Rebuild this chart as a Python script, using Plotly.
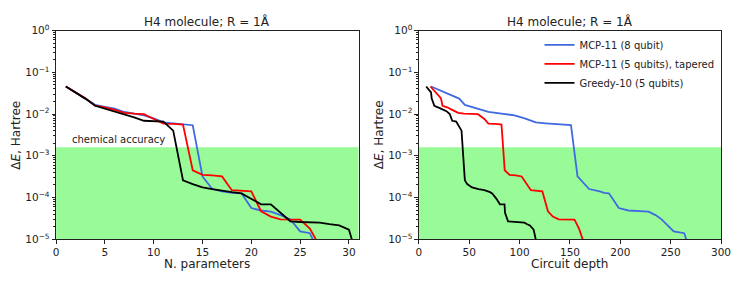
import plotly.graph_objects as go

# ---------------- data ----------------
title_text = "H4 molecule; R = 1Å"
series_names = ["MCP-11 (8 qubit)", "MCP-11 (5 qubits), tapered", "Greedy-10 (5 qubits)"]
series_colors = ["#4169E1", "#FF0000", "#000000"]

n_blue = list(range(1, 28))
depth_blue = [12, 26, 40, 45.6, 52, 59, 69, 82, 95, 105, 116, 126, 137, 151, 157.5, 169,
              179.6, 184, 188.7, 198.5, 208, 228, 235, 241, 253, 263.5, 270]
de_blue = [0.0457, 0.0324, 0.0234, 0.0166, 0.0148, 0.0135, 0.0112, 0.0102, 0.0093, 0.0079,
           0.0063, 0.0060, 0.0058, 0.0054, 3.2e-4, 1.6e-4, 1.4e-4, 1.3e-4, 1.26e-4, 5.6e-5,
           4.9e-5, 4.6e-5, 3.8e-5, 3.0e-5, 1.55e-5, 1.4e-5, 4.5e-6]

n_red = list(range(1, 28))
depth_red = [11.4, 17, 21.8, 23.4, 28, 33, 39, 44.6, 58.6, 65, 69, 76, 82, 85.2, 90, 96, 102,
             111.2, 117, 122.6, 128.1, 133, 138.8, 147, 154.5, 159, 165]
de_red = [0.0457, 0.0324, 0.024, 0.0158, 0.0145, 0.0126, 0.0107, 0.0102, 0.0099, 0.0076,
          0.0059, 0.0058, 0.0056, 4.5e-4, 3.5e-4, 3.4e-4, 3.2e-4, 1.5e-4, 1.45e-4, 1.4e-4,
          4.7e-5, 3.5e-5, 3.0e-5, 2.95e-5, 2.95e-5, 1.8e-5, 6.8e-6]

n_black = list(range(1, 32))
depth_black = [7.2, 12, 12.7, 15.3, 21.8, 27.3, 30.6, 31.8, 33, 35, 37, 42.3, 45.6, 47.9, 52.7,
               59.2, 65, 70.6, 72.7, 77, 80.4, 85, 85.5, 88.5, 98.3, 102, 104.8, 107.5, 110.2,
               113.9, 121]
de_black = [0.0457, 0.033, 0.0234, 0.0158, 0.0135, 0.0117, 0.0100, 0.0083, 0.0069, 0.0068,
            0.0066, 0.0040, 2.6e-4, 2.1e-4, 1.75e-4, 1.6e-4, 1.5e-4, 1.35e-4, 1.26e-4, 9.3e-5,
            6.9e-5, 6.9e-5, 4.3e-5, 2.7e-5, 2.6e-5, 2.5e-5, 2.5e-5, 2.3e-5, 2.15e-5, 1.7e-5,
            2.8e-6]

chem_acc = 1.6e-3
band_floor = 1e-6

y_tickvals = [1e-5, 1e-4, 1e-3, 1e-2, 1e-1, 1]
y_ticktext = ["10<sup>−5</sup>", "10<sup>−4</sup>", "10<sup>−3</sup>", "10<sup>−2</sup>",
              "10<sup>−1</sup>", "10<sup>0</sup>"]
y_minor_tickvals = [m * d for d in (1e-5, 1e-4, 1e-3, 1e-2, 1e-1) for m in range(2, 10)]
x1_tickvals = [0, 5, 10, 15, 20, 25, 30]
x2_tickvals = [0, 50, 100, 150, 200, 250, 300]
x1_max = 31
x2_max = 300
x1_label = "N. parameters"
x2_label = "Circuit depth"
y_label = "Δ<i>E</i>, Hartree"
band_label = "chemical accuracy"

# ---------------- figure ----------------
FONT = "DejaVu Sans"
INK = "#222"
fig = go.Figure()

for xa, ya, xmax in [("x", "y", x1_max), ("x2", "y2", x2_max)]:
    fig.add_trace(go.Scatter(x=[0, xmax, xmax, 0, 0],
                             y=[band_floor, band_floor, chem_acc, chem_acc, band_floor],
                             fill="toself", fillcolor="#98FB98", mode="none",
                             hoverinfo="skip", showlegend=False, xaxis=xa, yaxis=ya))

left = [(n_blue, de_blue), (n_red, de_red), (n_black, de_black)]
right = [(depth_blue, de_blue), (depth_red, de_red), (depth_black, de_black)]
for i, (xs, ys) in enumerate(left):
    fig.add_trace(go.Scatter(x=xs, y=ys, mode="lines", line=dict(color=series_colors[i], width=1.8),
                             name=series_names[i], showlegend=False, xaxis="x", yaxis="y"))
for i, (xs, ys) in enumerate(right):
    fig.add_trace(go.Scatter(x=xs, y=ys, mode="lines", line=dict(color=series_colors[i], width=1.8),
                             name=series_names[i], showlegend=True, xaxis="x2", yaxis="y2"))

W, H = 748, 284


def px(X):
    return X / W


def py(Y):
    return 1 - Y / H


y_dom = [py(243.3), py(23.7)]
x1_dom = [px(54), px(362)]
x2_dom = [px(423.3), px(730.7)]

axis_common = dict(showline=True, linecolor=INK, linewidth=1, mirror=True,
                   ticks="outside", ticklen=3.5, tickwidth=1, tickcolor=INK,
                   showgrid=False, zeroline=False,
                   tickfont=dict(family=FONT, size=10.5, color=INK))

yaxis_common = dict(axis_common, type="log", range=[-5, 0], tickmode="array",
                    tickvals=y_tickvals, ticktext=y_ticktext,
                    minor=dict(ticks="outside", ticklen=2, tickcolor=INK, tickwidth=0.8,
                               tickmode="array", tickvals=y_minor_tickvals, showgrid=False))

fig.update_layout(
    width=W, height=H, margin=dict(l=0, r=0, t=0, b=0),
    plot_bgcolor="white", paper_bgcolor="white",
    font=dict(family=FONT, size=10, color=INK),
    hovermode=False,
    xaxis=dict(axis_common, domain=x1_dom, range=[0, x1_max], tickmode="array",
               tickvals=x1_tickvals, anchor="y"),
    yaxis=dict(yaxis_common, domain=y_dom, anchor="x"),
    xaxis2=dict(axis_common, domain=x2_dom, range=[0, x2_max], tickmode="array",
                tickvals=x2_tickvals, anchor="y2"),
    yaxis2=dict(yaxis_common, domain=y_dom, anchor="x2"),
    legend=dict(x=px(546), y=py(23.5), xanchor="left", yanchor="top",
                bgcolor="rgba(0,0,0,0)", font=dict(family=FONT, size=10, color=INK),
                itemwidth=30, tracegroupgap=0),
    showlegend=True,
)

ann = []
for dom in (x1_dom, x2_dom):
    ann.append(dict(text=title_text, x=sum(dom) / 2, y=py(14), xref="paper", yref="paper",
                    showarrow=False, font=dict(family=FONT, size=12, color=INK),
                    xanchor="center", yanchor="middle"))
for dom, lab in ((x1_dom, x1_label), (x2_dom, x2_label)):
    ann.append(dict(text=lab, x=sum(dom) / 2, y=py(269.5), xref="paper", yref="paper",
                    showarrow=False, font=dict(family=FONT, size=12, color=INK),
                    xanchor="center", yanchor="middle"))
for xp in (13, 383):
    ann.append(dict(text=y_label, x=px(xp), y=sum(y_dom) / 2, xref="paper", yref="paper",
                    showarrow=False, textangle=-90, font=dict(family=FONT, size=12, color=INK),
                    xanchor="center", yanchor="middle"))
ann.append(dict(text=band_label, x=1.4, y=-2.615, xref="x", yref="y", showarrow=False,
                xanchor="left", yanchor="middle", font=dict(family=FONT, size=10, color=INK)))
fig.update_layout(annotations=ann)

fig.write_html("out.html", config={"displayModeBar": False},
               post_script="document.body.style.margin='0';document.body.style.overflow='hidden';")
